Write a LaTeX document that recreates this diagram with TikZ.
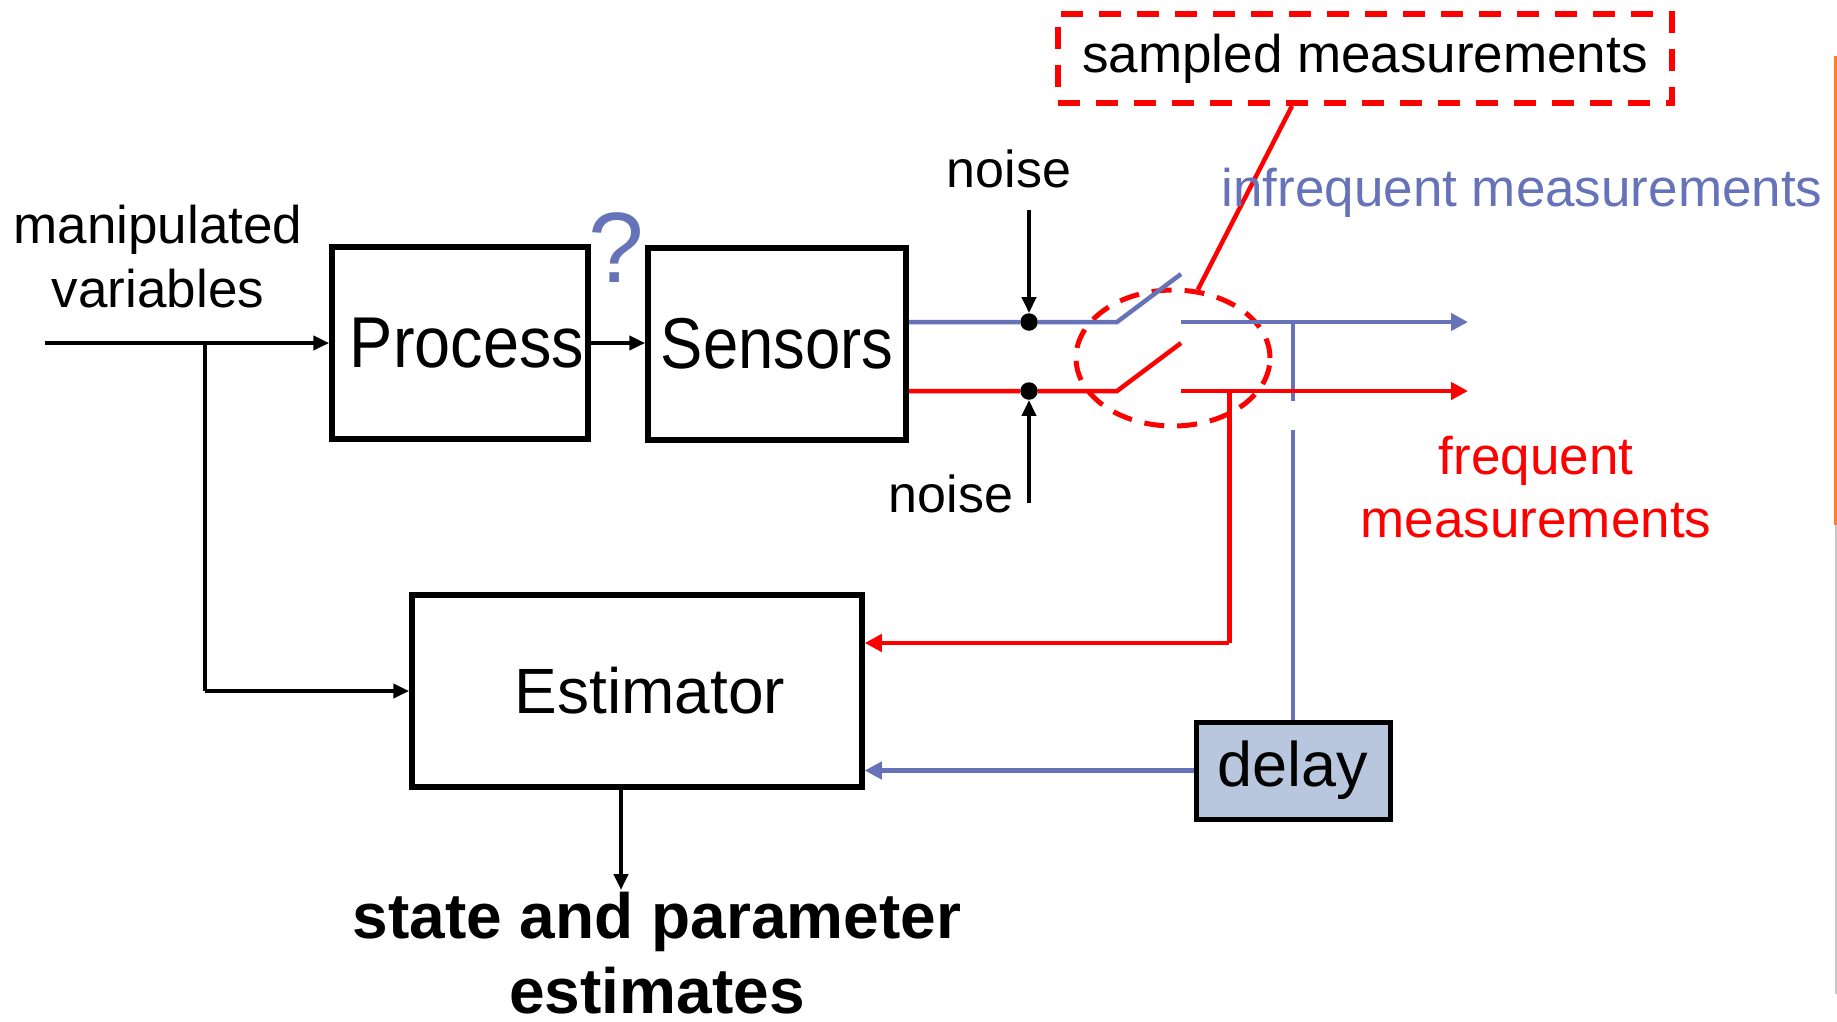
\documentclass[tikz,border=0pt]{standalone}
\usepackage{fontspec}
\setmainfont{Liberation Sans}
\usetikzlibrary{arrows.meta,shapes.geometric}
\definecolor{mblue}{RGB}{102,115,184}
\definecolor{mred}{RGB}{255,0,0}
\definecolor{dfill}{RGB}{184,198,222}
\definecolor{morange}{RGB}{255,128,40}
\newcommand{\fsz}[2]{\fontsize{#1}{#2}\selectfont}
\newcommand{\sx}[2]{\scalebox{#1}[1]{#2}}
\begin{document}
\begin{tikzpicture}[x=1pt,y=-1pt,
  blockbox/.style={draw=black,line width=5.5pt,inner sep=0pt,rectangle},
  arr/.style={line width=4pt,-{Triangle[length=16pt,width=14pt]}},
  blu/.style={draw=mblue,line width=4.5pt},
  rdl/.style={draw=mred,line width=4.5pt},
  ctip/.style={-{Triangle[length=17pt,width=17pt]}},
  dot/.style={circle,fill=black,inner sep=0pt,minimum size=17.5pt},
  lbl/.style={anchor=base,inner sep=0pt,align=center}]
\useasboundingbox (0,0) rectangle (1837,1021);
\fill[white] (0,0) rectangle (1837,1021);
% slide edge
\draw[morange,line width=3pt] (1835.5,56) -- (1835.5,525);
\draw[black!22,line width=2pt] (1835.5,525) -- (1835.5,994);
% blocks
\node[blockbox,minimum width=256pt,minimum height=192pt] (proc) at (460,343) {\fsz{72}{80}\hspace*{14pt}\sx{0.9}{Process}};
\node[blockbox,minimum width=258pt,minimum height=192pt] (sens) at (777,344) {\fsz{72}{80}\sx{0.88}{Sensors}};
\node[blockbox,minimum width=450pt,minimum height=192pt] (est) at (637,691) {\fsz{64}{70}\hspace*{26pt}\raisebox{-4pt}{Estimator}};
\node[blockbox,fill=dfill,line width=5pt,minimum width=194pt,minimum height=97pt] (delay) at (1293,770.5) {\fsz{63}{70}\raisebox{-7pt}{delay}};
\node[draw=mred,line width=6pt,dash pattern=on 22pt off 16pt,minimum width=614pt,minimum height=89pt,inner sep=0pt] (sbox) at (1365,58.5) {\fsz{53}{60}\raisebox{-2pt}{sampled measurements}};
\node[ellipse,draw=mred,line width=5pt,dash pattern=on 20pt off 13pt,minimum width=194pt,minimum height=136pt,inner sep=0pt] (ell) at (1173,358) {};
% dots and noise
\node[dot] (d1) at (1029,322) {};
\node[dot] (d2) at (1029,391) {};
\coordinate (n1) at (1029,210);
\coordinate (n2) at (1029,503);
\draw[arr] (n1) -- (d1.north);
\draw[arr] (n2) -- (d2.south);
% switch coordinates
\coordinate (bsw) at (1117,322);
\coordinate (bbl) at (1181,274);
\coordinate (bout) at (1181,322);
\coordinate (bend) at (1468,322);
\coordinate (btap) at (1293,322);
\coordinate (bgap) at (1293,401);
\coordinate (bres) at (1293,430);
\coordinate (rsw) at (1117,391);
\coordinate (rbl) at (1181,343);
\coordinate (rout) at (1181,391);
\coordinate (rend) at (1468,391);
\coordinate (rtap) at (1229,391);
\coordinate (rcor) at (1229,643);
% blue path
\draw[blu] (sens.east |- d1) -- (d1) -- (bsw) -- (bbl);
\draw[blu,ctip] (bout) -- (bend);
\draw[blu] (btap) -- (bgap);
\draw[blu] (bres) -- (delay.north);
\draw[blu,ctip] (delay.west) -- (delay.west -| est.east);
% red path
\draw[rdl] (sens.east |- d2) -- (d2) -- (rsw) -- (rbl);
\draw[rdl,ctip] (rout) -- (rend);
\draw[rdl,line width=5pt] (rtap) -- (rcor);
\draw[rdl,ctip] (rcor) -- (rcor -| est.east);
% callout line
\draw[mred,line width=4.5pt] ([xshift=-73pt]sbox.south) -- (ell.70);
% black arrows
\coordinate (inp) at (45,343);
\coordinate (br) at (205,343);
\coordinate (brc) at (205,691);
\coordinate (outend) at (621,890);
\draw[arr] (inp) -- (proc.west);
\draw[line width=4pt] (br) -- (brc);
\draw[arr] (brc) -- (est.west);
\draw[arr] (proc.east) -- (proc.east -| sens.west);
\draw[arr] (outend |- est.south) -- (outend);
% labels
\node[lbl,font=\fsz{53}{64}] (manip) at (158,307) {manipulated\\variables};
\node[lbl,text=mblue,font=\fsz{100}{110}] (qm) at (616,282) {?};
\node[lbl,font=\fsz{52}{60}] (noise1) at (1009,187) {noise};
\node[lbl,font=\fsz{52}{60}] (noise2) at (951,512) {noise};
\node[lbl,text=mblue,font=\fsz{53}{60}] (infreq) at (1522,206) {infrequent measurements};
\node[lbl,text=mred,font=\fsz{53}{63}] (freq) at (1536,537) {frequent\\measurements};
\node[lbl,font=\fsz{64}{75}\bfseries] (state) at (657,1013) {state and parameter\\estimates};
\end{tikzpicture}
\end{document}
